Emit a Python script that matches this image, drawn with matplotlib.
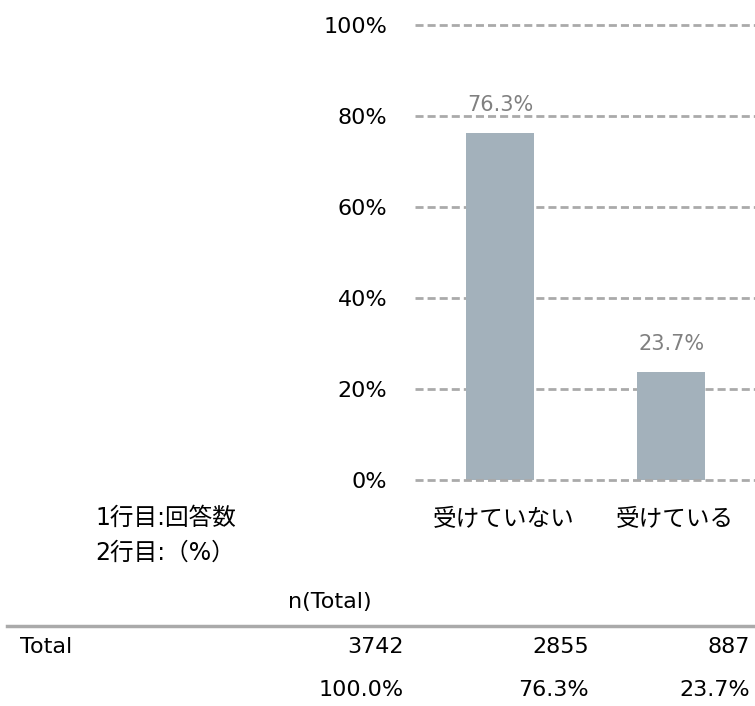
import matplotlib.pyplot as plt
from matplotlib.ticker import FuncFormatter

plt.rcParams['font.family'] = ['DejaVu Sans', 'Noto Sans CJK JP']

categories = ["受けていない", "受けている"]
percents = [76.3, 23.7]
counts = [2855, 887]
total_n = 3742
total_pct = "100.0%"
yticks = [0, 20, 40, 60, 80, 100]

W, H = 755, 706
fig = plt.figure(figsize=(W / 100, H / 100), dpi=100)


def fx(x):
    return x / W


def fy(y):
    return 1 - y / H


# chart area
ax = fig.add_axes([fx(415), fy(480), fx(755) - fx(415), fy(25) - fy(480)])
x = range(len(categories))
ax.bar(x, percents, width=0.4, color="#a3b1bb", zorder=2)
for t in yticks:
    ax.axhline(t, color="#aaaaaa", lw=2, ls=(0, (2.9, 1.45)), clip_on=False,
               zorder=3 if t == 0 else 1)
for i, p in enumerate(percents):
    ax.text(i, p + 6.2, f"{p:.1f}%", ha="center", va="center", color="#808080", fontsize=15)
for i, c in enumerate(categories):
    ax.text(i + 0.02, -8.6, c, ha="center", va="center", fontsize=17, clip_on=False)

ax.set_xlim(-0.497, 1.49)
ax.set_ylim(0, 100)
ax.set_yticks(yticks)
ax.yaxis.set_major_formatter(FuncFormatter(lambda v, _: f"{v:.0f}%"))
ax.set_xticks([])
ax.tick_params(axis="y", length=0, pad=20, labelsize=16)
for s in ax.spines.values():
    s.set_visible(False)

# table below chart
fs = 16
fig.text(fx(95), fy(518), "1行目:回答数", fontsize=17, va="center")
fig.text(fx(95), fy(553), "2行目:（%）", fontsize=17, va="center")
fig.text(fx(330), fy(602), "n(Total)", fontsize=fs, va="center", ha="center")
fig.add_artist(plt.Line2D([fx(7), 1], [fy(626), fy(626)], color="#aaaaaa", lw=2.5))
fig.text(fx(20), fy(647), "Total", fontsize=fs, va="center")

col_right = [404, 589, 750]
row_counts = [total_n] + counts
row_pcts = [total_pct] + [f"{p:.1f}%" for p in percents]
for xr, c, p in zip(col_right, row_counts, row_pcts):
    fig.text(fx(xr), fy(647), str(c), fontsize=fs, va="center", ha="right")
    fig.text(fx(xr), fy(690), p, fontsize=fs, va="center", ha="right")

fig.savefig("out.png", dpi=100)
